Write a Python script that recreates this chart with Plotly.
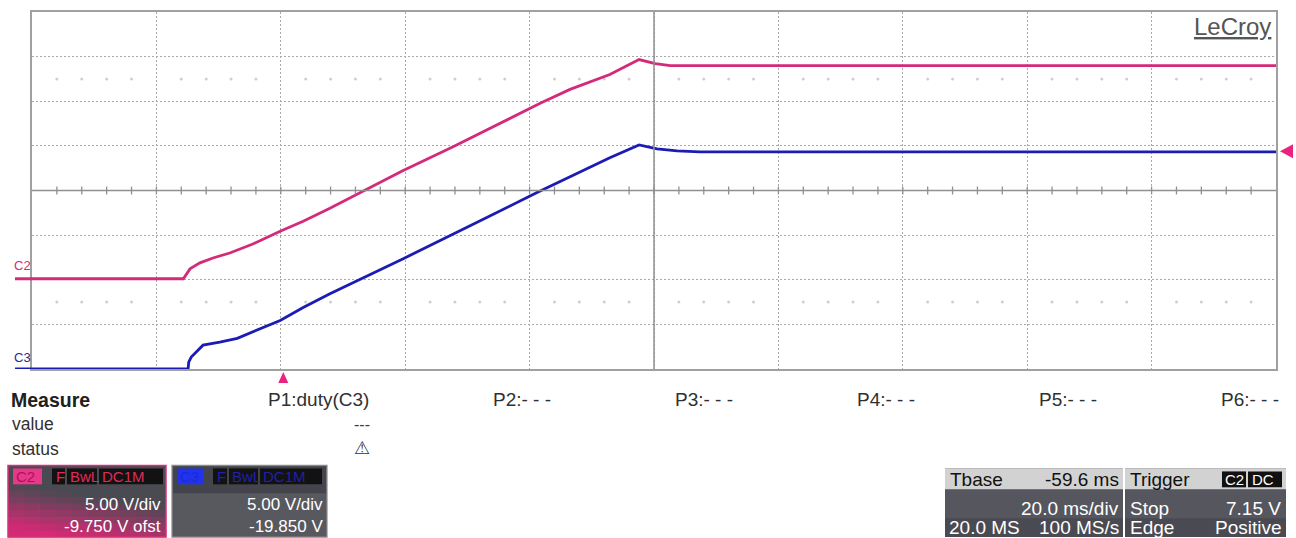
import plotly.graph_objects as go

# ---------------- data ----------------
# time in ms relative to trigger; voltages in V
c2_t = [-40.4, -16.1, -15.96, -15.5, -15.0, -13.4, -11.3, -8.6, -4.9, -0.5, 3.2, 7.5,
        12.8, 19.2, 27.3, 32.8, 41.3, 46.1, 49.8, 52.5, 57.2, 59.8, 62.2, 159.6]
c2_v = [-0.14, -0.14, -0.03, 0.53, 0.97, 1.64, 2.19, 2.75, 3.75, 5.19, 6.31, 7.75,
        9.64, 11.97, 14.64, 16.53, 19.53, 21.08, 22.08, 22.75, 24.42, 23.97, 23.75, 23.75]

c3_t = [-40.4, -15.3, -15.2, -14.8, -12.9, -10.2, -7.4, -4.2, -0.5, 3.2, 7.5, 19.2,
        26.8, 32.8, 40.8, 46.1, 52.5, 57.2, 60.1, 63.3, 67.0, 159.6]
c3_v = [-0.15, -0.15, 0.63, 1.18, 2.52, 2.85, 3.29, 4.18, 5.29, 6.74, 8.29, 12.18,
        14.74, 16.85, 19.63, 21.41, 23.52, 24.96, 24.52, 24.29, 24.18, 24.18]

# scope settings
T_DIV = 20.0          # ms/div
T_DELAY = -59.6       # ms (Tbase)
N_XDIV = 10
N_YDIV = 8
C2_VDIV, C2_OFST = 5.00, -9.750
C3_VDIV, C3_OFST = 5.00, -19.850

measure_labels = ["P1:duty(C3)", "P2:- - -", "P3:- - -", "P4:- - -", "P5:- - -", "P6:- - -"]

# ---------------- colours ----------------
PINK = "#d42a7a"
BLUE = "#1c1cb4"
GRID = "#a8a8a8"
FRAME = "#a0a0a0"
FONT = "Arial, Liberation Sans, sans-serif"

# ---------------- geometry ----------------
W, H = 1296, 538
L, R, T, B = 32, 1276, 10, 369


def px(x):
    return (x - L) / (R - L)


def py(y):
    return (B - y) / (B - T)


x_center = -T_DELAY
x_lo = x_center - T_DIV * N_XDIV / 2
x_hi = x_center + T_DIV * N_XDIV / 2
y2_lo, y2_hi = -N_YDIV / 2 * C2_VDIV - C2_OFST, N_YDIV / 2 * C2_VDIV - C2_OFST
y3_lo, y3_hi = -N_YDIV / 2 * C3_VDIV - C3_OFST, N_YDIV / 2 * C3_VDIV - C3_OFST

fig = go.Figure()

# faint dotted rows in graticule
minor = [x_lo + k * T_DIV / 5 for k in range(N_XDIV * 5 + 1) if k % 5 != 0]
ymid = (y2_lo + y2_hi) / 2
for yy in (ymid + 2.5 * C2_VDIV, ymid - 2.5 * C2_VDIV):
    fig.add_trace(go.Scatter(x=minor, y=[yy] * len(minor), mode="markers",
                             marker=dict(size=3, color="#cfcfcf"), hoverinfo="skip",
                             showlegend=False))

fig.add_trace(go.Scatter(x=c2_t, y=c2_v, mode="lines", line=dict(color=PINK, width=2.8),
                         name="C2", showlegend=False))
fig.add_trace(go.Scatter(x=c3_t, y=c3_v, mode="lines", line=dict(color=BLUE, width=2.8),
                         name="C3", yaxis="y2", showlegend=False))

shapes = []
# centre lines
shapes.append(dict(type="line", xref="x domain", yref="y domain", x0=0.5, x1=0.5, y0=0, y1=1,
                   line=dict(color="#909090", width=1.5)))
shapes.append(dict(type="line", xref="x domain", yref="y domain", x0=0, x1=1, y0=0.5, y1=0.5,
                   line=dict(color="#909090", width=1.5)))
# ticks on the horizontal centre line
tk = 4.0 / (B - T)
for k in range(1, N_XDIV * 5):
    t = x_lo + k * T_DIV / 5
    shapes.append(dict(type="line", xref="x", yref="y domain", x0=t, x1=t, y0=0.5 - tk, y1=0.5 + tk,
                       line=dict(color="#909090", width=1.3)))

# channel markers at left
shapes.append(dict(type="line", xref="paper", yref="y", x0=px(15), x1=px(32), y0=c2_v[0], y1=c2_v[0],
                   line=dict(color=PINK, width=3)))
shapes.append(dict(type="line", xref="paper", yref="y2", x0=px(15), x1=px(32), y0=c3_v[0], y1=c3_v[0],
                   line=dict(color=BLUE, width=3)))

# trigger-position triangle (time 0) below grid
hw = 5 / (R - L) * (x_hi - x_lo)
shapes.append(dict(type="path", xref="x", yref="paper",
                   path=f"M {-hw},{py(383)} L {hw},{py(383)} L 0,{py(372)} Z",
                   fillcolor="#e8247e", line=dict(width=0)))
# level triangle on the right
shapes.append(dict(type="path", xref="paper", yref="paper",
                   path=f"M {px(1293)},{py(143)} L {px(1293)},{py(157)} L {px(1280)},{py(150)} Z",
                   fillcolor="#e8247e", line=dict(width=0)))


def rect(x0, y0, x1, y1, fill, line=None, lw=0):
    d = dict(type="rect", xref="paper", yref="paper", x0=px(x0), x1=px(x1), y0=py(y1), y1=py(y0),
             fillcolor=fill, layer="above")
    d["line"] = dict(color=line, width=lw) if line else dict(width=0)
    return d


# ---- C2 box ----
shapes.append(rect(8, 466, 166, 538, "#4a4a52"))
nx, ny = 10, 8
for i in range(nx):
    for j in range(ny):
        x0 = 8 + i * 158 / nx
        y0 = 484 + j * 54 / ny
        u = (i + 0.5) / nx
        v = (j + 0.5) / ny
        a = max(0.0, min(0.95, 1.15 * v - 0.5 * u))
        if a > 0:
            shapes.append(rect(x0, y0, x0 + 158 / nx + 0.4, y0 + 54 / ny + 0.4,
                               f"rgba(222,40,120,{a:.2f})"))
shapes.append(dict(type="rect", xref="paper", yref="paper", x0=px(8), x1=px(166), y0=py(538), y1=py(466),
                   line=dict(color="#d8307a", width=1.5), fillcolor="rgba(0,0,0,0)", layer="above"))
shapes.append(rect(13, 469, 42, 485, "#e8388a"))
for (a0, a1) in [(52, 65), (67, 97), (99, 163)]:
    shapes.append(rect(a0, 469, a1, 485, "#121212"))

# ---- C3 box ----
shapes.append(rect(172, 466, 327, 538, "#58585f", "#8a8a90", 1.2))
shapes.append(rect(173, 467, 326, 494, "#44444c"))
shapes.append(rect(177, 469, 203, 485, "#2233ee"))
for (a0, a1) in [(213, 227), (229, 258), (260, 322)]:
    shapes.append(rect(a0, 469, a1, 485, "#121212"))

# ---- Tbase / Trigger boxes ----
for (b0, b1) in [(945, 1123), (1125, 1286)]:
    shapes.append(rect(b0, 469, b1, 538, "#4a4a52"))
    shapes.append(rect(b0, 490, b1, 519, "#56565e"))
    shapes.append(rect(b0, 469, b1, 490, "#d2d2d2"))
shapes.append(rect(1222, 472, 1246, 488, "#111111"))
shapes.append(rect(1248, 472, 1282, 488, "#111111"))

annotations = []


def txt(s, x, y, size, color="#222", anchor="left", bold=False, family=FONT):
    annotations.append(dict(text=f"<b>{s}</b>" if bold else s, x=px(x), y=py(y), xref="paper", yref="paper",
                            xanchor=anchor, yanchor="middle", showarrow=False,
                            font=dict(size=size, color=color, family=family)))


# logo
annotations.append(dict(text="<u>LeCroy</u>", x=px(1273), y=py(25), xref="paper", yref="paper",
                        xanchor="right", yanchor="middle", showarrow=False,
                        font=dict(size=24, color="#555555", family=FONT)))
# channel labels
txt("C2", 12, 265, 13, PINK)
txt("C3", 12, 357, 13, "#2a2a90")

# measurement area
txt("Measure", 9, 400, 19.5, "#202020", bold=True)
txt("value", 10, 424, 17.5, "#303030")
txt("status", 10, 449, 17.5, "#303030")
for k, lab in enumerate(measure_labels):
    txt(lab, 371 + 182 * k, 400, 19, "#303030", anchor="right")
txt("---", 352, 425, 16, "#404040", anchor="left")
txt("⚠", 352, 448, 18, "#333333", anchor="left", family="DejaVu Sans")

# C2 box text
txt("C2", 14, 477, 15, "#b0105a")
txt("F", 54, 477, 15, "#e02a5a")
txt("BwL", 68, 477, 15, "#e02a5a")
txt("DC1M", 100, 477, 15, "#e02a5a")
txt("5.00 V/div", 163, 505, 17, "white", anchor="right")
txt(f"{C2_OFST:.3f} V ofst", 163, 527, 17, "white", anchor="right")

# C3 box text
txt("C3", 178, 477, 15, "#1a2ad8")
txt("F", 215, 477, 15, "#2020a8")
txt("BwL", 230, 477, 15, "#2020a8")
txt("DC1M", 261, 477, 15, "#2020a8")
txt("5.00 V/div", 325, 505, 17, "white", anchor="right")
txt(f"{C3_OFST:.3f} V", 325, 527, 17, "white", anchor="right")

# Tbase box
txt("Tbase", 948, 480, 19, "#111")
txt(f"{T_DELAY:.1f} ms", 1121, 480, 19, "#111", anchor="right")
txt(f"{T_DIV:.1f} ms/div", 1121, 509, 19, "white", anchor="right")
txt("20.0 MS", 947, 528, 19, "white")
txt("100 MS/s", 1121, 528, 19, "white", anchor="right")

# Trigger box
txt("Trigger", 1128, 480, 19, "#111")
txt("C2", 1223, 480, 15, "white")
txt("DC", 1250, 480, 15, "white")
txt("Stop", 1128, 509, 19, "white")
txt("7.15 V", 1283, 509, 19, "white", anchor="right")
txt("Edge", 1128, 528, 19, "white")
txt("Positive", 1284, 528, 19, "white", anchor="right")

axis_common = dict(showgrid=True, gridcolor=GRID, griddash="2px,2px", gridwidth=1, showticklabels=False,
                   ticks="", zeroline=False, showline=True, mirror=True, linecolor=FRAME, linewidth=2,
                   fixedrange=True)

fig.update_layout(
    width=W, height=H,
    margin=dict(l=L, r=W - R, t=T, b=H - B, pad=0),
    paper_bgcolor="white", plot_bgcolor="white",
    xaxis=dict(range=[x_lo, x_hi], tick0=x_lo, dtick=T_DIV, **axis_common),
    yaxis=dict(range=[y2_lo, y2_hi], tick0=y2_lo, dtick=C2_VDIV, **axis_common),
    yaxis2=dict(range=[y3_lo, y3_hi], overlaying="y", visible=False, fixedrange=True),
    shapes=shapes, annotations=annotations, showlegend=False,
)

fig.write_html("out.html", config={"displayModeBar": False},
               post_script="document.body.style.margin='0px';document.body.style.overflow='hidden';")
